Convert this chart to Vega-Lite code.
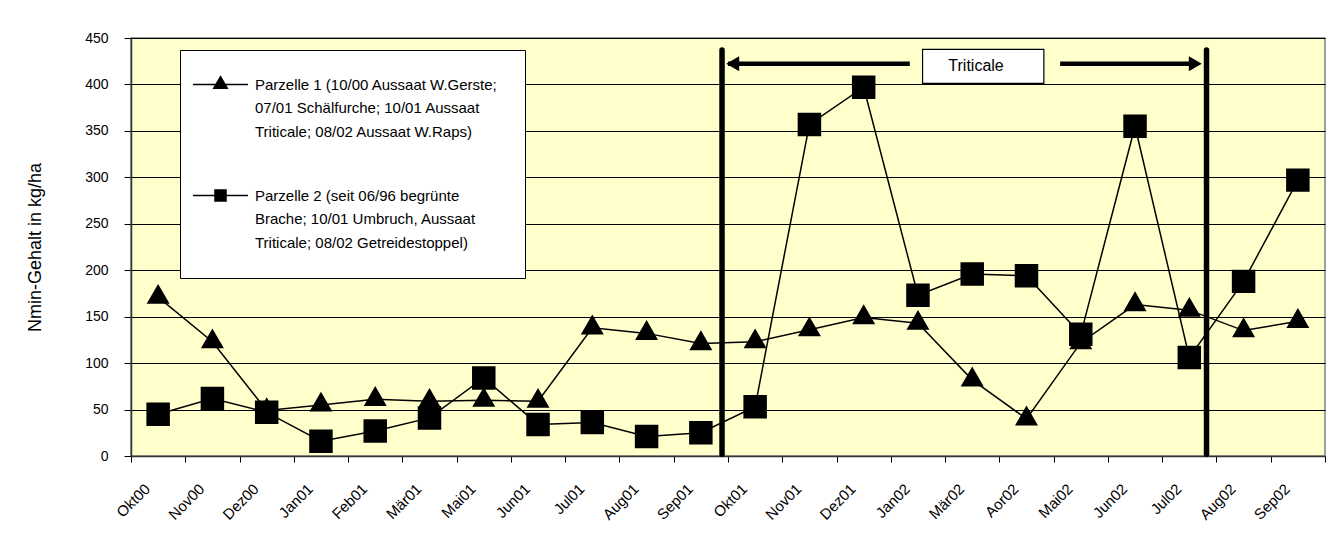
{
  "$schema": "https://vega.github.io/schema/vega-lite/v6.json",
  "width": 1194,
  "height": 418,
  "autosize": {"type": "none"},
  "padding": {"left": 131, "top": 38, "right": 12, "bottom": 104},
  "background": "white",
  "config": {
    "view": {"fill": "#FFFFCC", "stroke": "#808080", "strokeWidth": 1.5},
    "font": "Liberation Sans",
    "axis": {"labelFont": "Liberation Sans", "titleFont": "Liberation Sans", "labelColor": "black", "titleColor": "black", "tickColor": "black", "domainColor": "#333333"}
  },
  "layer": [
    {
      "data": {"values": [
        {"m": "Okt00", "series": "Parzelle 1", "v": 171}, {"m": "Nov00", "series": "Parzelle 1", "v": 123},
        {"m": "Dez00", "series": "Parzelle 1", "v": 49}, {"m": "Jan01", "series": "Parzelle 1", "v": 55},
        {"m": "Feb01", "series": "Parzelle 1", "v": 61}, {"m": "Mär01", "series": "Parzelle 1", "v": 59},
        {"m": "Mai01", "series": "Parzelle 1", "v": 60}, {"m": "Jun01", "series": "Parzelle 1", "v": 59},
        {"m": "Jul01", "series": "Parzelle 1", "v": 138}, {"m": "Aug01", "series": "Parzelle 1", "v": 132},
        {"m": "Sep01", "series": "Parzelle 1", "v": 121}, {"m": "Okt01", "series": "Parzelle 1", "v": 123},
        {"m": "Nov01", "series": "Parzelle 1", "v": 136}, {"m": "Dez01", "series": "Parzelle 1", "v": 149},
        {"m": "Jan02", "series": "Parzelle 1", "v": 143}, {"m": "Mär02", "series": "Parzelle 1", "v": 82},
        {"m": "Aor02", "series": "Parzelle 1", "v": 40}, {"m": "Mai02", "series": "Parzelle 1", "v": 122},
        {"m": "Jun02", "series": "Parzelle 1", "v": 163}, {"m": "Jul02", "series": "Parzelle 1", "v": 157},
        {"m": "Aug02", "series": "Parzelle 1", "v": 135}, {"m": "Sep02", "series": "Parzelle 1", "v": 145},
        {"m": "Okt00", "series": "Parzelle 2", "v": 45}, {"m": "Nov00", "series": "Parzelle 2", "v": 62},
        {"m": "Dez00", "series": "Parzelle 2", "v": 47}, {"m": "Jan01", "series": "Parzelle 2", "v": 16},
        {"m": "Feb01", "series": "Parzelle 2", "v": 27}, {"m": "Mär01", "series": "Parzelle 2", "v": 41},
        {"m": "Mai01", "series": "Parzelle 2", "v": 84}, {"m": "Jun01", "series": "Parzelle 2", "v": 34},
        {"m": "Jul01", "series": "Parzelle 2", "v": 36}, {"m": "Aug01", "series": "Parzelle 2", "v": 21},
        {"m": "Sep01", "series": "Parzelle 2", "v": 25}, {"m": "Okt01", "series": "Parzelle 2", "v": 53},
        {"m": "Nov01", "series": "Parzelle 2", "v": 357}, {"m": "Dez01", "series": "Parzelle 2", "v": 397},
        {"m": "Jan02", "series": "Parzelle 2", "v": 173}, {"m": "Mär02", "series": "Parzelle 2", "v": 196},
        {"m": "Aor02", "series": "Parzelle 2", "v": 194}, {"m": "Mai02", "series": "Parzelle 2", "v": 131},
        {"m": "Jun02", "series": "Parzelle 2", "v": 355}, {"m": "Jul02", "series": "Parzelle 2", "v": 106},
        {"m": "Aug02", "series": "Parzelle 2", "v": 188}, {"m": "Sep02", "series": "Parzelle 2", "v": 297}
      ]},
      "encoding": {
        "x": {"field": "m", "type": "ordinal",
          "sort": ["Okt00","Nov00","Dez00","Jan01","Feb01","Mär01","Mai01","Jun01","Jul01","Aug01","Sep01","Okt01","Nov01","Dez01","Jan02","Mär02","Aor02","Mai02","Jun02","Jul02","Aug02","Sep02"],
          "scale": {"type": "band", "paddingInner": 0, "paddingOuter": 0},
          "axis": {"title": null, "labelAngle": -45, "tickBand": "extent", "grid": false, "labelFontSize": 15, "tickSize": 6, "labelPadding": 19, "labelOffset": -16, "domainWidth": 1.5}},
        "y": {"field": "v", "type": "quantitative",
          "scale": {"domain": [0, 450], "nice": false},
          "axis": {"values": [0,50,100,150,200,250,300,350,400,450], "title": "Nmin-Gehalt in kg/ha", "titleFontSize": 18, "titleFontWeight": "normal", "titlePadding": 40, "grid": true, "gridColor": "black", "gridWidth": 1, "tickSize": 7, "labelPadding": 16, "labelFontSize": 14, "domainWidth": 1.5}}
      },
      "layer": [
        {"mark": {"type": "line", "color": "black", "strokeWidth": 1.5}, "encoding": {"detail": {"field": "series"}}},
        {"mark": {"type": "point", "filled": true, "color": "black", "opacity": 1, "strokeWidth": 0},
          "encoding": {
            "size": {"condition": {"test": "datum.series == 'Parzelle 1'", "value": 437}, "value": 681},
            "shape": {"field": "series", "type": "nominal",
              "scale": {"domain": ["Parzelle 1", "Parzelle 2"], "range": ["M-4.5,0H4.5M0,-1.27L1.1,0.63L-1.1,0.63Z", "M-4.5,0H4.5M-0.9,-0.9H0.9V0.9H-0.9Z"]},
              "legend": {
                "orient": "none", "legendX": 49, "legendY": 12, "title": null,
                "fillColor": "white", "strokeColor": "black", "padding": 27,
                "labelFont": "Liberation Sans", "labelFontSize": 15, "labelColor": "black", "labelLimit": 1000,
                "symbolSize": 150, "symbolOffset": 6, "labelOffset": 27, "rowPadding": 46,
                "symbolStrokeColor": "black", "symbolFillColor": "black", "symbolStrokeWidth": 1.5,
                "labelExpr": "datum.value == 'Parzelle 1' ? ['Parzelle 1 (10/00 Aussaat W.Gerste;', '07/01 Schälfurche; 10/01 Aussaat', 'Triticale; 08/02 Aussaat W.Raps)'] : ['Parzelle 2 (seit 06/96 begrünte', 'Brache; 10/01 Umbruch, Aussaat', 'Triticale; 08/02 Getreidestoppel)']",
                "encoding": {
                  "symbols": {
                    "fill": {"value": "black"}, "stroke": {"value": "black"}, "strokeWidth": {"value": 1.5}, "strokeOpacity": {"value": 1}, "size": {"value": 150}, "opacity": {"value": 1}},
                  "labels": {"lineHeight": {"value": 23.5}}
                }
              }}
          }}
      ]
    },
    {
      "layer": [
        {
          "data": {"values": [{"p": 10.89, "v": 2, "v2": 437}, {"p": 19.817, "v": 2, "v2": 437}]},
          "mark": {"type": "rule", "color": "black", "strokeWidth": 5.5, "strokeCap": "round"},
          "encoding": {
            "x": {"field": "p", "type": "quantitative", "scale": {"domain": [0, 22], "nice": false, "zero": false}, "axis": null},
            "y": {"field": "v", "type": "quantitative"},
            "y2": {"field": "v2"}
          }
        },
        {
          "data": {"values": [{"p": 11.0, "p2": 14.35, "v": 422.4}, {"p": 17.12, "p2": 19.6, "v": 422.4}]},
          "mark": {"type": "rule", "color": "black", "strokeWidth": 4.5},
          "encoding": {
            "x": {"field": "p", "type": "quantitative", "axis": null},
            "x2": {"field": "p2"},
            "y": {"field": "v", "type": "quantitative"}
          }
        },
        {
          "data": {"values": [{"p": 11.087, "v": 422.4}]},
          "mark": {"type": "point", "shape": "triangle-left", "filled": true, "color": "black", "size": 225, "opacity": 1},
          "encoding": {
            "x": {"field": "p", "type": "quantitative", "axis": null},
            "y": {"field": "v", "type": "quantitative"}
          }
        },
        {
          "data": {"values": [{"p": 19.61, "v": 422.4}]},
          "mark": {"type": "point", "shape": "triangle-right", "filled": true, "color": "black", "size": 225, "opacity": 1},
          "encoding": {
            "x": {"field": "p", "type": "quantitative", "axis": null},
            "y": {"field": "v", "type": "quantitative"}
          }
        },
        {
          "data": {"values": [{"p": 14.585, "p2": 16.82, "v": 437.8, "v2": 401.2}]},
          "mark": {"type": "rect", "fill": "white", "stroke": "black", "strokeWidth": 1.2},
          "encoding": {
            "x": {"field": "p", "type": "quantitative", "axis": null},
            "x2": {"field": "p2"},
            "y": {"field": "v", "type": "quantitative"},
            "y2": {"field": "v2"}
          }
        },
        {
          "data": {"values": [{"p": 15.57, "v": 419.5, "t": "Triticale"}]},
          "mark": {"type": "text", "font": "Liberation Sans", "fontSize": 16, "color": "black", "align": "center", "baseline": "middle"},
          "encoding": {
            "x": {"field": "p", "type": "quantitative", "axis": null},
            "y": {"field": "v", "type": "quantitative"},
            "text": {"field": "t"}
          }
        }
      ]
    }
  ],
  "resolve": {"scale": {"x": "independent"}}
}
